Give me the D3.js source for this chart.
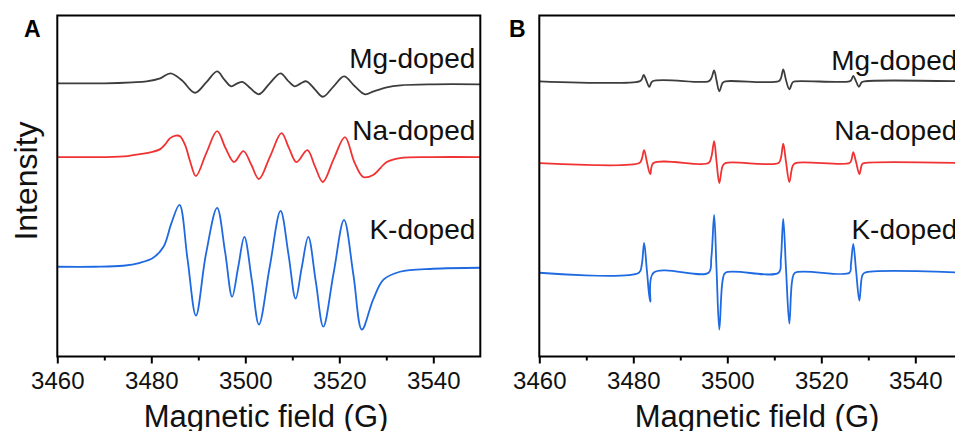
<!DOCTYPE html>
<html>
<head>
<meta charset="utf-8">
<script src="https://d3js.org/d3.v7.min.js"></script>
<style>
    body { margin: 0; background: #fff; }
    svg { display: block; font-family: "Liberation Sans", Arial, sans-serif; }
</style>
</head>
<body>
<svg id="chart" width="955" height="431"></svg>
<script>
/* ---- data: [field (G), intensity (a.u., relative to each trace's baseline)] ---- */
var fieldTicks = [3460, 3480, 3500, 3520, 3540];
var fieldMinorTicks = [3470, 3490, 3510, 3530];
var fieldDomain = [3460, 3550];
var sampleNames = ["Mg-doped", "Na-doped", "K-doped"];

// panel A
var aMg = [[3460, 0], [3470, 0], [3476, 1], [3479, 2], [3481.9, 5], [3484.1, 10], [3486.5, 3], [3489.3, -9.5],
    [3491.7, 1], [3494.0, 12], [3495.5, 4], [3497.0, -3], [3498.3, 0], [3499.5, 1.3], [3501.1, -5], [3502.9, -11],
    [3505.2, 0], [3507.5, 10], [3509.0, 3], [3510.5, -3], [3511.8, 0], [3513.0, 2], [3514.8, -6], [3516.5, -13.5],
    [3518.8, -3], [3521.0, 7], [3523.3, -3], [3525.5, -11], [3527.3, -8], [3530.1, -4], [3533, -2], [3540, -1], [3550, -1]];
var aNa = [[3460, 0], [3470, 0], [3475, 1], [3477.6, 3], [3480, 5], [3481.9, 8], [3483.0, 13], [3484.0, 19],
    [3485.2, 21.5], [3486.1, 21], [3487.2, 12], [3488.3, -5], [3489.5, -19], [3491.7, 4], [3494.0, 26], [3495.8, 9],
    [3497.6, -5], [3499.6, 6], [3501.3, -8], [3502.9, -22], [3505.3, 1], [3507.7, 24], [3509.3, 9], [3510.9, -5],
    [3513.2, 7], [3514.8, -9], [3516.5, -25], [3518.8, -2], [3521.2, 20], [3523.2, -5], [3525.1, -20], [3527.2, -18],
    [3530.1, -5], [3532.9, -1], [3540, 0], [3550, 0]];
var aK = [[3460, 0], [3468, 0], [3474, 1], [3477.6, 4], [3480.4, 9], [3482.6, 20], [3484.3, 44], [3486.0, 62],
    [3487.7, 8], [3489.5, -49], [3491.6, 12], [3494.0, 59], [3495.7, 15], [3497.2, -30], [3498.5, 0], [3499.8, 30],
    [3501.4, -14], [3502.9, -58], [3505.2, 0], [3507.5, 56], [3509.2, 12], [3510.7, -32], [3512.0, -1], [3513.4, 30],
    [3515.0, -15], [3516.6, -60], [3518.8, -6], [3521.0, 47], [3523.0, -8], [3524.8, -63], [3527.2, -33],
    [3529.4, -13], [3532.9, -5], [3540, -2], [3550, -1]];

// panel B
var bMg = [[3460, 0], [3481.3, 0], [3481.8, 2], [3482.2, 6.5], [3482.8, 0.5], [3483.4, -5.5], [3484.1, 0],
    [3496.0, 0], [3496.6, 3], [3497.2, 11], [3497.7, 1], [3498.3, -10], [3499.0, -1.5], [3499.6, 0],
    [3510.9, 0], [3511.4, 3], [3511.9, 12], [3512.5, 1], [3513.2, -8], [3513.9, -1], [3514.5, 0],
    [3526.0, 0], [3526.4, 1.5], [3526.8, 5.5], [3527.4, 0], [3528.0, -5.5], [3528.6, -1], [3529.2, 0], [3550, 0]];
var bNa = [[3460, 0], [3481.3, 0], [3481.8, 4], [3482.3, 13], [3482.9, 1], [3483.6, -11], [3484.3, 0],
    [3496.0, 0], [3496.6, 6], [3497.2, 22], [3497.7, 2], [3498.3, -20], [3499.0, -3], [3499.6, 0],
    [3510.9, 0], [3511.4, 5], [3511.9, 19.5], [3512.5, 1], [3513.2, -19], [3513.9, -3], [3514.5, 0],
    [3526.0, 0], [3526.4, 3], [3526.8, 11], [3527.4, 1], [3528.1, -11], [3528.7, -1], [3529.2, 0], [3550, 0]];
var bK = [[3460, 0], [3481.2, 0], [3481.8, 8], [3482.3, 30], [3482.9, 2], [3483.6, -29], [3484.3, 0],
    [3496.0, 0], [3496.6, 15], [3497.2, 58], [3497.7, 5], [3498.3, -57], [3499.0, -8], [3499.6, 0],
    [3510.9, 0], [3511.4, 14], [3511.9, 54], [3512.5, 3], [3513.2, -51], [3513.8, -8], [3514.4, 0],
    [3526.0, 0], [3526.3, 8], [3526.8, 29], [3527.4, 2], [3528.1, -28], [3528.7, -3], [3529.2, 0], [3550, 0]];

// vertical offsets of the stacked traces (a.u.)
var aOffsets = [274, 200, 90];
var bOffsets = [276, 194, 84];

/* ---- style / layout ---- */
var colors = ["#3d3d3d", "#f03232", "#1f6ae0"];
var plotTop = 15.5, plotBottom = 356.5, plotWidth = 423;

var svg = d3.select("#chart");

// 绘制一个面板
function drawPanel(p) {
    var x = d3.scaleLinear().domain(fieldDomain).range([p.left, p.left + plotWidth]);
    var y = d3.scaleLinear().domain([0, 342]).range([plotBottom, plotTop]);
    var g = svg.append("g");

    var line = d3.line()
        .x(function (d) { return x(d[0]); })
        .y(function (d) { return y(d[1] + d.offset); })
        .curve(d3.curveCatmullRom.alpha(0.5));

    p.series.forEach(function (s, i) {
        var pts = s.map(function (d) { var q = [d[0], d[1]]; q.offset = p.offsets[i]; return q; });
        g.append("path")
            .attr("d", line(pts))
            .attr("fill", "none")
            .attr("stroke", colors[i])
            .attr("stroke-width", 1.8)
            .attr("stroke-linejoin", "round");
        g.append("text")
            .attr("x", p.left + plotWidth - 5)
            .attr("y", p.labelY[i])
            .attr("text-anchor", "end")
            .attr("font-size", 28)
            .attr("fill", "#111")
            .text(sampleNames[i]);
    });

    // 坐标轴（主刻度 + 次刻度）
    var axis = d3.axisBottom(x).tickValues(fieldTicks).tickSize(7).tickSizeOuter(0).tickPadding(8)
        .tickFormat(d3.format("d"));
    var minor = d3.axisBottom(x).tickValues(fieldMinorTicks).tickSize(4).tickSizeOuter(0).tickFormat("");
    [axis, minor].forEach(function (a) {
        var ag = g.append("g").attr("transform", "translate(0," + plotBottom + ")").call(a);
        ag.select(".domain").remove();
        ag.selectAll("line").attr("stroke", "#000").attr("stroke-width", 2);
        ag.selectAll("text").attr("font-size", 24).attr("font-family", null).attr("fill", "#111");
    });

    // 边框
    g.append("rect")
        .attr("x", p.left).attr("y", plotTop)
        .attr("width", plotWidth).attr("height", plotBottom - plotTop)
        .attr("fill", "none").attr("stroke", "#000").attr("stroke-width", 2);

    g.append("text")
        .attr("x", p.titleX).attr("y", 427)
        .attr("text-anchor", "middle")
        .attr("font-size", 31)
        .attr("fill", "#111")
        .text("Magnetic field (G)");

    g.append("text")
        .attr("x", p.letterX).attr("y", 36.5)
        .attr("font-size", 23).attr("font-weight", "bold")
        .text(p.letter);
}

drawPanel({ left: 57.3, series: [aMg, aNa, aK], offsets: aOffsets, labelY: [68, 140, 239],
    titleX: 266, letter: "A", letterX: 24 });
drawPanel({ left: 539.3, series: [bMg, bNa, bK], offsets: bOffsets, labelY: [70, 140, 239],
    titleX: 757, letter: "B", letterX: 509 });

svg.append("text")
    .attr("transform", "translate(37,181) rotate(-90)")
    .attr("text-anchor", "middle")
    .attr("font-size", 32)
    .attr("fill", "#111")
    .text("Intensity");
</script>
</body>
</html>
